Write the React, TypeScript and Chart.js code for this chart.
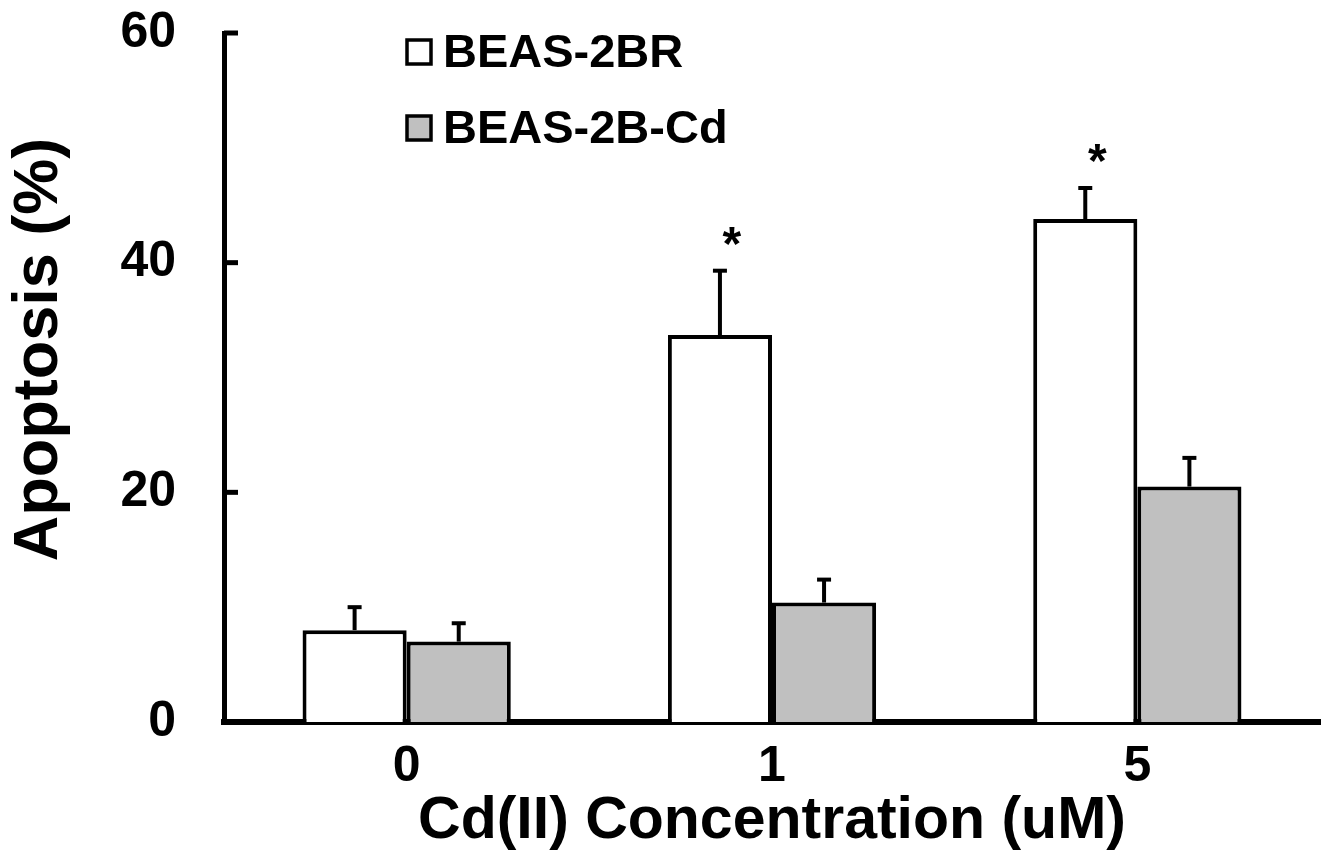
import React, { useEffect, useRef } from "react";
import { Chart, registerables } from "chart.js";

Chart.register(...registerables);

const categories = ["0", "1", "5"];
const seriesNames = ["BEAS-2BR", "BEAS-2B-Cd"];
const beasRMeans = [8.0, 33.7, 43.8];
const beasRErr = [2.0, 5.6, 2.7];
const beasCdMeans = [7.0, 10.4, 20.5];
const beasCdErr = [1.6, 2.0, 2.5];
const beasRSignificant = [false, true, true];
const yTicks = [0, 20, 40, 60];
const xTitle = "Cd(II) Concentration (uM)";
const yTitle = "Apoptosis (%)";

const FONT = 'Arial, "Liberation Sans", Helvetica, sans-serif';

export default function App() {
  const ref = useRef<HTMLCanvasElement | null>(null);

  useEffect(() => {
    document.body.style.margin = "0";
    const canvas = ref.current;
    if (!canvas) return;

    const errors = [beasRErr, beasCdErr];

    const extrasPlugin = {
      id: "extras",
      afterDatasetsDraw(chart: any) {
        const ctx = chart.ctx;
        const yScale = chart.scales.y;
        const area = chart.chartArea;
        ctx.save();
        // error bars (upper only)
        chart.data.datasets.forEach((ds: any, di: number) => {
          const meta = chart.getDatasetMeta(di);
          meta.data.forEach((bar: any, i: number) => {
            const v = ds.data[i];
            const e = errors[di][i];
            const yTop = yScale.getPixelForValue(v + e);
            const yBar = yScale.getPixelForValue(v);
            ctx.strokeStyle = "#000";
            ctx.lineWidth = 4;
            ctx.beginPath();
            ctx.moveTo(bar.x, yBar);
            ctx.lineTo(bar.x, yTop);
            ctx.stroke();
            ctx.beginPath();
            ctx.moveTo(bar.x - 7, yTop);
            ctx.lineTo(bar.x + 7, yTop);
            ctx.stroke();
            if (di === 0 && beasRSignificant[i]) {
              ctx.fillStyle = "#000";
              ctx.font = `bold 48px ${FONT}`;
              ctx.textAlign = "center";
              ctx.textBaseline = "alphabetic";
              ctx.fillText("*", bar.x + 12, yTop - 38 + 0.57 * 48);
            }
          });
        });
        // inward y-axis ticks
        ctx.strokeStyle = "#000";
        ctx.lineWidth = 5;
        yTicks.forEach((t) => {
          const y = yScale.getPixelForValue(t);
          ctx.beginPath();
          ctx.moveTo(area.left, y);
          ctx.lineTo(area.left + 14, y);
          ctx.stroke();
        });
        // legend
        const fills = ["#ffffff", "#c0c0c0"];
        const rowY = [area.top + 19, area.top + 95];
        ctx.font = `bold 47px ${FONT}`;
        ctx.textAlign = "left";
        ctx.textBaseline = "middle";
        seriesNames.forEach((name, k) => {
          const bx = area.left + 183;
          const by = rowY[k] - 12;
          ctx.fillStyle = fills[k];
          ctx.fillRect(bx, by, 24, 24);
          ctx.lineWidth = 3.5;
          ctx.strokeStyle = "#000";
          ctx.strokeRect(bx, by, 24, 24);
          ctx.fillStyle = "#000";
          ctx.fillText(name, area.left + 219, rowY[k] + 2);
        });
        // y-axis title
        ctx.save();
        ctx.translate(40, (area.top + area.bottom) / 2 - 28);
        ctx.rotate(-Math.PI / 2);
        ctx.font = `bold 63px ${FONT}`;
        ctx.textAlign = "center";
        ctx.textBaseline = "middle";
        ctx.fillStyle = "#000";
        ctx.fillText(yTitle, 0, 0);
        ctx.restore();
        ctx.restore();
      },
    };

    const chart = new Chart(canvas, {
      type: "bar",
      data: {
        labels: categories,
        datasets: [
          {
            label: seriesNames[0],
            data: beasRMeans,
            backgroundColor: "#ffffff",
            borderColor: "#000000",
            borderWidth: 4,
            borderSkipped: "bottom",
            categoryPercentage: 0.57,
            barPercentage: 1.0,
          },
          {
            label: seriesNames[1],
            data: beasCdMeans,
            backgroundColor: "#c0c0c0",
            borderColor: "#000000",
            borderWidth: 4,
            borderSkipped: "bottom",
            categoryPercentage: 0.57,
            barPercentage: 1.0,
          },
        ],
      },
      options: {
        responsive: false,
        animation: false,
        devicePixelRatio: 1,
        layout: { padding: { top: 33, right: 6, left: 0, bottom: 0 } },
        plugins: {
          legend: { display: false },
          tooltip: { enabled: false },
        },
        scales: {
          x: {
            grid: { display: false, drawTicks: false },
            border: { display: true, color: "#000", width: 6 },
            ticks: {
              color: "#000",
              font: { family: FONT, size: 50, weight: "bold" },
              padding: 15,
            },
            title: {
              display: true,
              text: xTitle,
              color: "#000",
              font: { family: FONT, size: 59, weight: "bold" },
              padding: { top: 0, bottom: 4 },
            },
            afterFit(scale: any) {
              scale.height = 139;
              scale.paddingLeft = 0;
              scale.paddingRight = 0;
            },
          },
          y: {
            min: 0,
            max: 60,
            grid: { display: false, drawTicks: false },
            border: { display: true, color: "#000", width: 5 },
            afterBuildTicks(scale: any) {
              scale.ticks = yTicks.map((v) => ({ value: v }));
            },
            ticks: {
              color: "#000",
              font: { family: FONT, size: 50, weight: "bold" },
              padding: 48,
            },
            title: { display: false, text: yTitle },
            afterFit(scale: any) {
              scale.width = 224;
              scale.paddingTop = 0;
              scale.paddingBottom = 0;
            },
          },
        },
      },
      plugins: [extrasPlugin],
    });

    return () => chart.destroy();
  }, []);

  return (
    <div style={{ width: 1326, height: 861, background: "#fff" }}>
      <canvas ref={ref} width={1326} height={861} />
    </div>
  );
}
